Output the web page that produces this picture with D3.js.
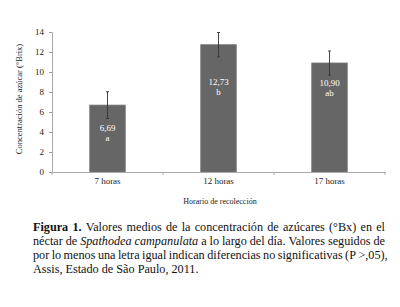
<!DOCTYPE html>
<html><head><meta charset="utf-8">
<script src="https://cdn.jsdelivr.net/npm/d3@7"></script>
<style>body{margin:0;background:#fff}svg{display:block}</style>
</head><body>
<script>
const categories = ["7 horas", "12 horas", "17 horas"];
const values = [6.69, 12.73, 10.90];
const errors = [1.34, 1.22, 1.2];
const valueLabels = ["6,69", "12,73", "10,90"];
const letters = ["a", "b", "ab"];
const labelAt = [4.4, 9.0, 8.9];
const yTicks = [0, 2, 4, 6, 8, 10, 12, 14];
const yTitle = "Concentración de azúcar (°Brix)";
const xTitle = "Horario de recolección";
const captionLines = [
  [{t:"Figura 1.", b:true}, {t:" Valores medios de la concentración de azúcares (°Bx) en el"}],
  [{t:"néctar de "}, {t:"Spathodea campanulata", i:true}, {t:" a lo largo del día. Valores seguidos de"}],
  [{t:"por lo menos una letra igual indican diferencias no significativas (P >,05),"}],
  [{t:"Assis, Estado de São Paulo, 2011."}]
];

const W = 400, H = 307;
const font = "'Liberation Serif', 'Times New Roman', serif";
const svg = d3.select("body").append("svg").attr("width", W).attr("height", H)
  .attr("font-family", font);

const x = d3.scaleBand().domain(categories).range([52, 385]).paddingInner(0.68).paddingOuter(0.34);
const y = d3.scaleLinear().domain([0, 14]).range([172, 32]);

// bars
svg.selectAll("rect.bar").data(values).join("rect")
  .attr("x", (d, i) => x(categories[i]))
  .attr("width", x.bandwidth())
  .attr("y", d => y(d))
  .attr("height", d => y(0) - y(d))
  .attr("fill", "#666").attr("stroke", "#777").attr("stroke-width", 0.8);

// axes
const yAxis = svg.append("g").attr("transform", "translate(52,0)")
  .call(d3.axisLeft(y).tickValues(yTicks).tickSize(3).tickPadding(5));
const xb = d3.scaleBand().domain(categories).range([52, 385]);
const xAxis = svg.append("g").attr("transform", "translate(0,172)")
  .call(d3.axisBottom(xb).tickSize(0).tickPadding(6));
svg.selectAll("line.bt").data(d3.range(categories.length + 1)).join("line")
  .attr("x1", i => 52 + i * xb.step()).attr("x2", i => 52 + i * xb.step())
  .attr("y1", 172).attr("y2", 175).attr("stroke", "#999").attr("stroke-width", 0.8);
[yAxis, xAxis].forEach(g => {
  g.attr("font-family", font);
  g.select(".domain").attr("stroke", "#aaa").attr("stroke-width", 1);
  g.selectAll(".tick line").attr("stroke", "#999");
  g.selectAll("text").attr("font-family", font).attr("font-size", 9).attr("fill", "#222");
});

// error bars
const eb = svg.append("g").attr("stroke", "#333").attr("stroke-width", 0.9);
values.forEach((v, i) => {
  const cx = x(categories[i]) + x.bandwidth() / 2;
  eb.append("line").attr("x1", cx).attr("x2", cx).attr("y1", y(v + errors[i])).attr("y2", y(v - errors[i]));
  eb.append("line").attr("x1", cx - 1.5).attr("x2", cx + 1.5).attr("y1", y(v + errors[i])).attr("y2", y(v + errors[i]));
  eb.append("line").attr("x1", cx - 1.5).attr("x2", cx + 1.5).attr("y1", y(v - errors[i])).attr("y2", y(v - errors[i]));
});

// labels inside bars
values.forEach((v, i) => {
  const cx = x(categories[i]) + x.bandwidth() / 2;
  const t = svg.append("text").attr("x", cx).attr("y", y(labelAt[i]) + 3)
    .attr("text-anchor", "middle").attr("font-size", 9).attr("fill", "#fff");
  t.append("tspan").attr("x", cx).text(valueLabels[i]);
  t.append("tspan").attr("x", cx).attr("dy", 10).text(letters[i]);
});

// titles
svg.append("text").attr("transform", "translate(22,99) rotate(-90)").attr("text-anchor", "middle")
  .attr("font-size", 8.5).attr("fill", "#222").text(yTitle);
svg.append("text").attr("x", 220).attr("y", 204).attr("text-anchor", "middle")
  .attr("font-size", 8).attr("fill", "#222").text(xTitle);

// caption (justified)
const capLeft = 33, capRight = 385, capFont = 12.2;
captionLines.forEach((segs, li) => {
  const baseY = 231 + li * 14;
  const words = [];
  segs.forEach(s => {
    s.t.split(" ").forEach(w => {
      if (w === "") return;
      words.push({t: w, b: s.b, i: s.i});
    });
  });
  const g = svg.append("g");
  const nodes = words.map(w => g.append("text").attr("y", baseY)
    .attr("font-size", capFont).attr("fill", "#111")
    .attr("font-weight", w.b ? "bold" : null).attr("font-style", w.i ? "italic" : null).text(w.t));
  const widths = nodes.map(n => n.node().getComputedTextLength());
  const total = d3.sum(widths);
  const last = li === captionLines.length - 1;
  const gap = last ? capFont * 0.25 : Math.max(capFont * 0.2, (capRight - capLeft - total) / (words.length - 1));
  let cx = capLeft;
  nodes.forEach((n, k) => { n.attr("x", cx); cx += widths[k] + gap; });
});
</script>
</body></html>
